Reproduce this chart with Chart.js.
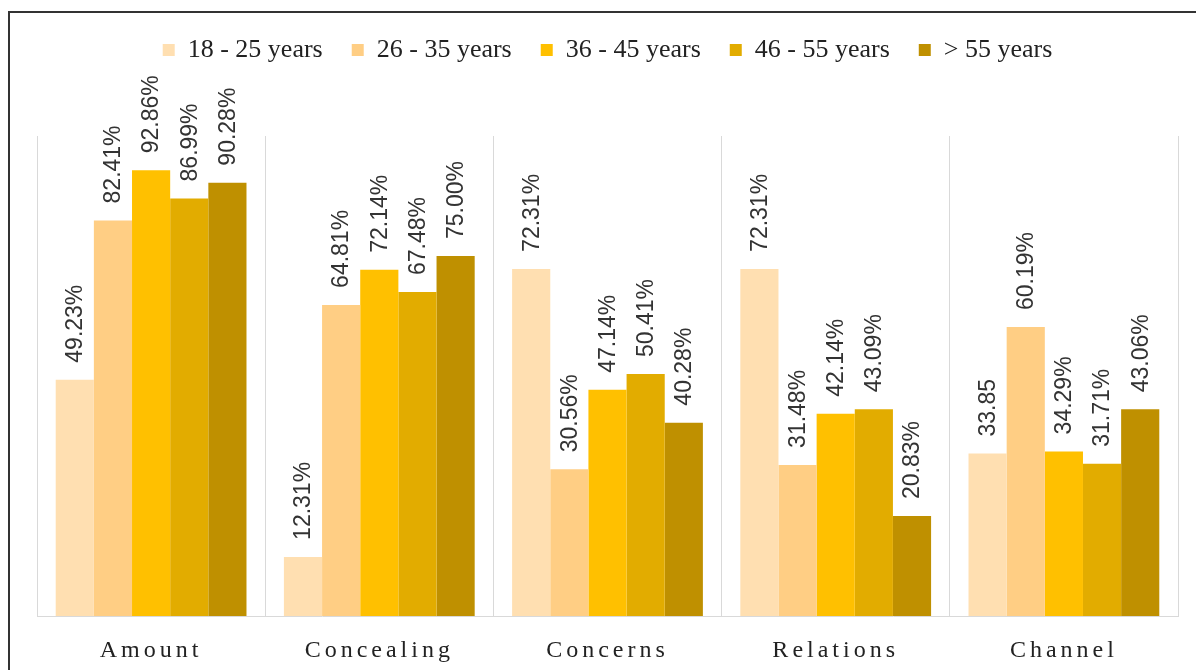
<!DOCTYPE html>
<html>
<head>
<meta charset="utf-8">
<script src="https://cdn.jsdelivr.net/npm/chart.js@4/dist/chart.umd.min.js"></script>
<style>
  body { margin: 0; background: #fff; }
  #wrap { position: relative; width: 1196px; height: 670px; overflow: hidden; }
  #frame { position: absolute; left: 8px; top: 11px; width: 1300px; height: 800px;
           border-left: 2px solid #333; border-top: 2px solid #333; }
  canvas { position: absolute; left: 0; top: 0; }
</style>
</head>
<body>
<div id="wrap">
  <div id="frame"></div>
  <canvas id="ageChart"></canvas>
</div>
<script>
// categories and series
const categories = ['Amount', 'Concealing', 'Concerns', 'Relations', 'Channel'];
const seriesNames = ['18 - 25 years', '26 - 35 years', '36 - 45 years', '46 - 55 years', '> 55 years'];
const age18to25 = [49.23, 12.31, 72.31, 72.31, 33.85];
const age26to35 = [82.41, 64.81, 30.56, 31.48, 60.19];
const age36to45 = [92.86, 72.14, 47.14, 42.14, 34.29];
const age46to55 = [86.99, 67.48, 50.41, 43.09, 31.71];
const ageOver55 = [90.28, 75.00, 40.28, 20.83, 43.06];
const colors = ['#FFDFB1', '#FFCE84', '#FFC000', '#E2AC00', '#BF9000'];

// the one label in the source that has no percent sign
function labelFor(ds, i, v) {
    if (ds === 0 && i === 4) return v.toFixed(2);
    return v.toFixed(2) + '%';
}

const barLabels = {
    id: 'barLabels',
    beforeLayout(chart) {
        // extra room between legend and plot area
        const lg = chart.legend;
        if (lg && !lg._patched) {
            const fit = lg.fit;
            lg.fit = function () { fit.call(this); this.height += 63; };
            lg._patched = true;
        }
    },
    afterDatasetsDraw(chart) {
        const ctx = chart.ctx;
        ctx.save();
        ctx.font = '23px "Liberation Sans", Arial, sans-serif';
        ctx.fillStyle = '#333';
        ctx.textAlign = 'left';
        ctx.textBaseline = 'middle';
        chart.data.datasets.forEach((ds, d) => {
            chart.getDatasetMeta(d).data.forEach((bar, i) => {
                ctx.save();
                ctx.translate(bar.x + 1, bar.y - 17);
                ctx.rotate(-Math.PI / 2);
                ctx.fillText(labelFor(d, i, ds.data[i]), 0, 0);
                ctx.restore();
            });
        });
        ctx.restore();
        // x tick labels are drawn after this (ticks.z: 1), with spaced letters
        ctx.letterSpacing = '4px';
    },
    afterDraw(chart) {
        chart.ctx.letterSpacing = '0px';
    }
};

const allSeries = [age18to25, age26to35, age36to45, age46to55, ageOver55];

const ctx = document.getElementById('ageChart').getContext('2d');
const ageChart = new Chart(ctx, {
    type: 'bar',
    data: {
        labels: categories,
        datasets: allSeries.map((vals, k) => ({
            label: seriesNames[k],
            data: vals,
            backgroundColor: colors[k],
            borderWidth: 0,
            categoryPercentage: 0.836,
            barPercentage: 1
        }))
    },
    options: {
        responsive: true,
        maintainAspectRatio: false,
        animation: false,
        layout: { padding: { left: 37, right: 18, top: 8, bottom: 5 } },
        plugins: {
            tooltip: { enabled: false },
            legend: {
                position: 'top',
                labels: {
                    boxWidth: 12,
                    boxHeight: 12,
                    padding: 29,
                    color: '#222',
                    font: { family: '"Liberation Serif", "Times New Roman", serif', size: 26 }
                }
            }
        },
        scales: {
            x: {
                grid: { offset: true, drawTicks: false, color: '#d9d9d9', lineWidth: 1 },
                border: { color: '#d9d9d9' },
                afterFit(scale) { scale.height = 49; },
                ticks: {
                    z: 1,
                    padding: 20,
                    maxRotation: 0,
                    autoSkip: false,
                    color: '#222',
                    font: { family: '"Liberation Serif", "Times New Roman", serif', size: 24 }
                }
            },
            y: {
                display: false,
                min: 0,
                max: 100
            }
        }
    },
    plugins: [barLabels]
});
</script>
</body>
</html>
